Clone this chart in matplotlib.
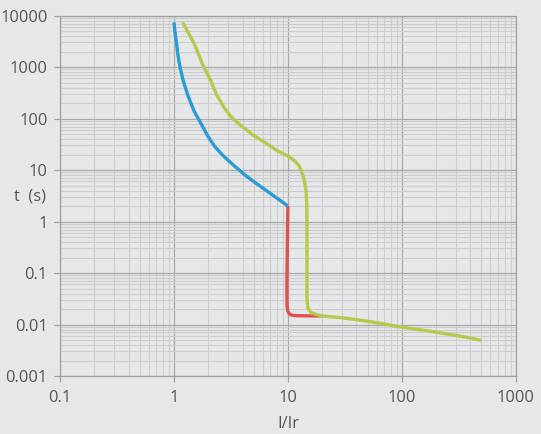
import numpy as np
import matplotlib
matplotlib.use('Agg')
import matplotlib.pyplot as plt
from matplotlib.ticker import LogLocator, NullFormatter

plt.rcParams['font.family'] = ['Open Sans', 'DejaVu Sans']

# tick values / labels
x_ticks = [0.1, 1, 10, 100, 1000]
x_labels = ['0.1', '1', '10', '100', '1000']
y_ticks = [0.001, 0.01, 0.1, 1, 10, 100, 1000, 10000]
y_labels = ['0.001', '0.01', '0.1', '1', '10', '100', '1000', '10000']

# curves (I/Ir, t in s)
blue_x = [1.0, 1.02, 1.05, 1.08, 1.12, 1.2, 1.32, 1.5, 1.79, 2.0, 2.27, 2.7, 3.28, 4.2, 5.27, 7.3, 10.0]
blue_y = [7400, 4800, 3000, 1800, 1100, 560, 286, 140, 69, 44, 29, 19, 12.8, 8.0, 5.5, 3.3, 2.0]

red_x = [10.0, 9.95, 9.9, 9.85, 9.8, 9.8, 9.85, 10.0, 10.3, 10.8, 11.4, 13.0, 16.0, 20.0]
red_y = [2.0, 1.0, 0.4, 0.15, 0.06, 0.03, 0.022, 0.018, 0.016, 0.0152, 0.0149, 0.0148, 0.0147, 0.0147]

green_x = [1.19, 1.5, 1.79, 2.1, 2.35, 2.7, 3.1, 3.5, 4.0, 5.0, 6.45, 8.0, 10.3, 11.5, 12.6, 13.5, 14.0,
           14.4, 14.6, 14.7, 14.7, 14.7, 14.7, 14.75, 14.9, 15.3, 16.0, 17.5, 20.3, 30.0, 48.7, 70.0, 100, 200, 350, 500]
green_y = [7400, 2900, 1100, 550, 300, 175, 115, 88, 69, 47, 33, 24, 18, 15, 12, 8.0, 6.0,
           4.0, 2.5, 1.0, 0.3, 0.1, 0.04, 0.028, 0.022, 0.019, 0.017, 0.0158, 0.0146, 0.0135, 0.0117, 0.0102, 0.0089, 0.0071, 0.0058, 0.0049]

bg = '#e6e7e8'
fig = plt.figure(figsize=(5.41, 4.34), dpi=100, facecolor=bg)
ax = fig.add_axes([0.111, 0.1336, 0.8423, 0.8306])
ax.set_facecolor(bg)

ax.set_xscale('log')
ax.set_yscale('log')
ax.set_xlim(0.1, 1000)
ax.set_ylim(0.001, 10000)

ax.plot(blue_x, blue_y, color='#2b9bd4', lw=2.4, solid_capstyle='butt', solid_joinstyle='round', zorder=3)
ax.plot(red_x, red_y, color='#e0524f', lw=2.4, solid_capstyle='butt', solid_joinstyle='round', zorder=2)
ax.plot(green_x, green_y, color='#b6c94b', lw=2.4, solid_capstyle='butt', solid_joinstyle='round', zorder=3)

ax.set_xticks(x_ticks)
ax.set_xticklabels(x_labels)
ax.set_yticks(y_ticks)
ax.set_yticklabels(y_labels)
ax.xaxis.set_minor_locator(LogLocator(base=10, subs=np.arange(2, 10), numticks=20))
ax.yaxis.set_minor_locator(LogLocator(base=10, subs=np.arange(2, 10), numticks=20))
ax.xaxis.set_minor_formatter(NullFormatter())
ax.yaxis.set_minor_formatter(NullFormatter())

ax.grid(which='major', color='#a8a8a8', lw=0.9)
ax.grid(which='minor', color='#cdcdcd', lw=0.8)
ax.set_axisbelow(True)

for s in ax.spines.values():
    s.set_color('#a0a0a0')
    s.set_linewidth(0.9)
ax.tick_params(which='major', length=4, width=0.9, color='#a0a0a0', labelcolor='#555555', labelsize=11.8)
ax.tick_params(axis='x', which='major', pad=6)
ax.tick_params(axis='y', which='major', pad=5)
ax.tick_params(which='minor', length=0)

ax.set_xlabel('I/Ir', color='#555555', fontsize=11.8, labelpad=7)
ax.text(-0.031, 0.497, 't  (s)', transform=ax.transAxes, ha='right', va='center', color='#555555', fontsize=11.8)

fig.savefig('out.png', dpi=100, facecolor=bg)
